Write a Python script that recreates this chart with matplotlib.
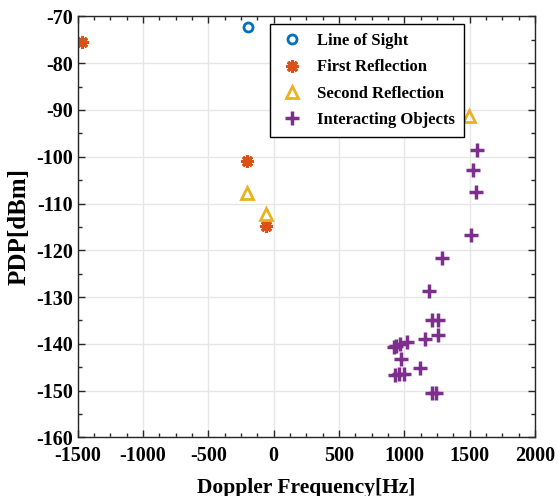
import matplotlib.pyplot as plt
from matplotlib.ticker import MultipleLocator

# Doppler frequency [Hz] and PDP [dBm] for each path type
los_freq = [-200]
los_pdp = [-72.2]

first_freq = [-1467, -202, -59]
first_pdp = [-75.5, -100.9, -114.7]

second_freq = [-202, -59, 1495]
second_pdp = [-107.7, -112.3, -91.3]

obj_freq = [1555, 1528, 1544, 1506, 1287, 1192, 1208, 1254, 1259, 1154,
            1023, 969, 938, 918, 972, 1118, 931, 955, 1000, 1215, 1244]
obj_pdp = [-98.6, -102.8, -107.5, -116.8, -121.7, -128.8, -135.0, -135.0,
           -138.1, -138.9, -139.7, -140.0, -140.4, -140.7, -143.2, -145.1,
           -146.7, -146.5, -146.4, -150.5, -150.4]

plt.rcParams['font.family'] = ['Liberation Serif', 'DejaVu Serif']
plt.rcParams['font.weight'] = 'bold'
plt.rcParams['axes.unicode_minus'] = False

fig = plt.figure(figsize=(5.58, 4.96), dpi=100)
ax = fig.add_axes([0.139, 0.118, 0.82, 0.849])

ax.plot(los_freq, los_pdp, 'o', ls='none', mfc='none', mec='#0072BD',
        mew=2, ms=6.5, label='Line of Sight')
ax.plot(first_freq, first_pdp, marker=(8, 2, 0), ls='none', color='#D95319',
        mew=2.2, ms=9, label='First Reflection')
ax.plot(second_freq, second_pdp, '^', ls='none', mfc='none', mec='#EDB120',
        mew=2, ms=8.5, label='Second Reflection')
ax.plot(obj_freq, obj_pdp, '+', ls='none', color='#7E2F8E',
        mew=2.5, ms=9.5, label='Interacting Objects')

ax.set_xlim(-1500, 2000)
ax.set_ylim(-160, -70)
ax.xaxis.set_major_locator(MultipleLocator(500))
ax.xaxis.set_minor_locator(MultipleLocator(125))
ax.yaxis.set_major_locator(MultipleLocator(10))
ax.yaxis.set_minor_locator(MultipleLocator(5))
ax.tick_params(which='both', direction='in', top=True, right=True,
               labelsize=14.5, width=1, colors='#262626', labelcolor='black')
ax.tick_params(which='major', length=5)
ax.tick_params(which='minor', length=3)
ax.tick_params(axis='x', pad=6)
ax.grid(True, which='major', color='#e6e6e6', lw=1)
ax.set_axisbelow(True)
for s in ax.spines.values():
    s.set_color('#262626')
    s.set_linewidth(1)

ax.set_xlabel('Doppler Frequency[Hz]', fontsize=15.5, fontweight='bold', labelpad=9)
ax.set_ylabel('PDP[dBm]', fontsize=18, fontweight='bold', labelpad=4)

leg = ax.legend(loc='upper left', bbox_to_anchor=(0.42, 0.982), fontsize=12,
                fancybox=False, framealpha=1, edgecolor='black',
                borderaxespad=0, borderpad=0.55, handlelength=1.6,
                handletextpad=0.7, labelspacing=0.62)
leg.get_frame().set_linewidth(1)

fig.savefig('out.png', dpi=100)
